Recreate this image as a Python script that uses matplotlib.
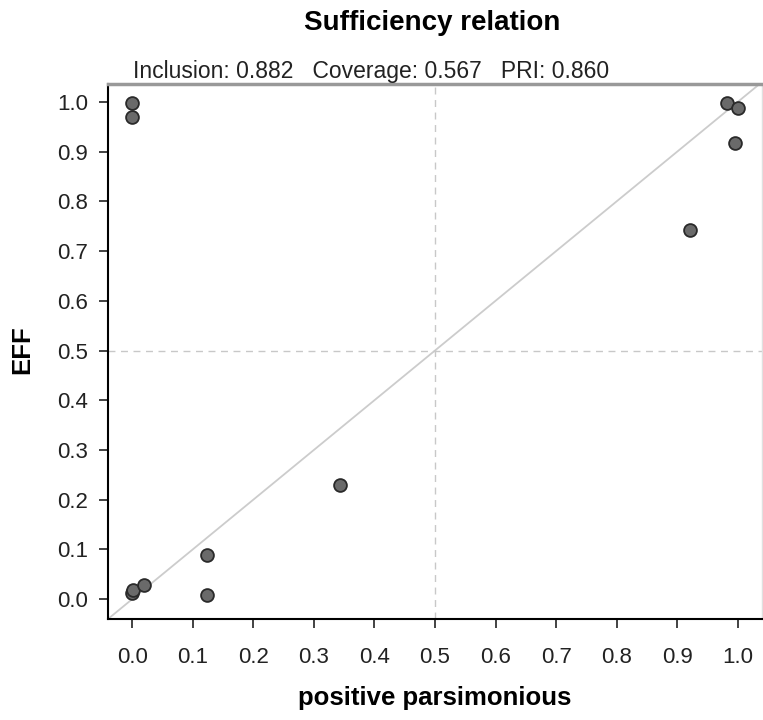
import matplotlib
matplotlib.use('Agg')
import matplotlib.pyplot as plt

plt.rcParams['font.family'] = ['Liberation Sans', 'DejaVu Sans']

# sufficiency data (X = positive parsimonious, Y = EFF)
x_vals = [0.0, 0.0, 0.0, 0.002, 0.02, 0.124, 0.124, 0.343, 0.921, 0.982, 1.0, 0.996]
y_vals = [0.998, 0.970, 0.012, 0.018, 0.028, 0.088, 0.008, 0.229, 0.742, 0.998, 0.988, 0.917]
ticks = [0.0, 0.1, 0.2, 0.3, 0.4, 0.5, 0.6, 0.7, 0.8, 0.9, 1.0]
title = 'Sufficiency relation'
subtitle = 'Inclusion: 0.882   Coverage: 0.567   PRI: 0.860'

W, H = 763, 720
fig = plt.figure(figsize=(W / 100, H / 100), dpi=100)
ax = fig.add_axes([108 / W, 101 / H, 654 / W, 535 / H])

ax.set_xlim(-0.04, 1.04)
ax.set_ylim(-0.04, 1.036)

# diagonal and reference lines
ax.plot([-0.04, 1.04], [-0.04, 1.04], color='#cccccc', lw=1.3, zorder=1)
ax.axhline(0.5, color='#c8c8c8', lw=1, ls=(0, (5, 4)), zorder=1)
ax.axvline(0.5, color='#c8c8c8', lw=1, ls=(0, (5, 4)), zorder=1)

ax.scatter(x_vals, y_vals, s=85, facecolor='#6a6a6a', edgecolor='#2a2a2a',
           linewidth=1.3, zorder=3)

ax.set_xticks(ticks)
ax.set_yticks(ticks)
ax.set_xticklabels(['%.1f' % t for t in ticks])
ax.set_yticklabels(['%.1f' % t for t in ticks])
ax.tick_params(direction='out', length=6.5, width=1.2, labelsize=16,
               colors='#222222')
ax.tick_params(axis='x', pad=14)
ax.tick_params(axis='y', pad=8)

ax.spines['left'].set_linewidth(1.5)
ax.spines['bottom'].set_linewidth(1.5)
ax.spines['top'].set_color('#999999')
ax.spines['top'].set_linewidth(2.5)
ax.spines['right'].set_color('#e0e0e0')
ax.spines['right'].set_linewidth(1)

fig.text(435 / W, 1 - 705 / H, 'positive parsimonious', ha='center',
         va='baseline', fontsize=18.5, fontweight='bold')
fig.text(22 / W, 1 - 350 / H, 'EFF', ha='center', va='center', rotation=90,
         fontsize=18.5, fontweight='bold')

fig.text(432 / W, 1 - 30 / H, title, ha='center', va='baseline',
         fontsize=20, fontweight='bold')
fig.text(133 / W, 1 - 78 / H, subtitle, ha='left', va='baseline',
         fontsize=16.5, color='#222222')

fig.savefig('out.png', dpi=100)
